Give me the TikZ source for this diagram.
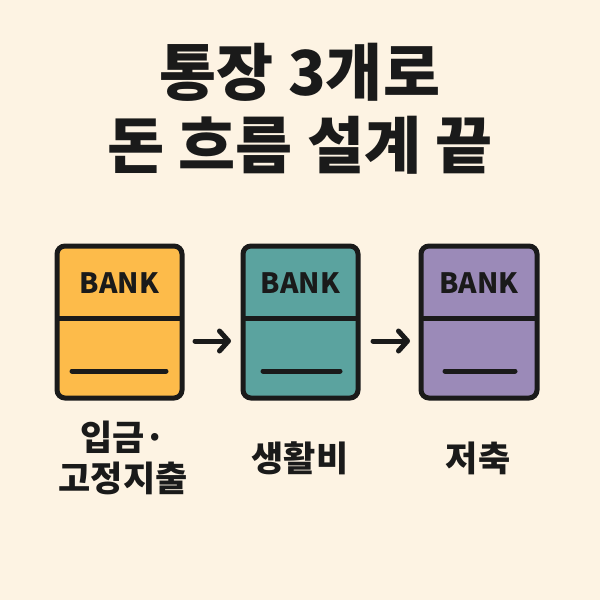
\documentclass[tikz,border=0pt]{standalone}
\usepackage{fontspec}
\setmainfont{Noto Sans CJK KR}
\newfontfamily\heavy{Noto Sans CJK KR Black}
\usetikzlibrary{arrows.meta}
\definecolor{bg}{HTML}{FDF3E3}
\definecolor{ink}{HTML}{1A1A1A}
\definecolor{cyellow}{HTML}{FDBB4A}
\definecolor{cteal}{HTML}{5BA39F}
\definecolor{cpurple}{HTML}{9B8AB8}
\tikzset{
  bankbox/.style={draw=ink, line width=5pt, rounded corners=8pt},
  divline/.style={draw=ink, line width=5pt},
  slotline/.style={draw=ink, line width=5pt, line cap=round},
  flowarrow/.style={draw=ink, line width=5pt, line cap=round, -{Straight Barb[length=9pt,width=20pt,line cap=round,line join=round]}},
  banktext/.style={font=\fontsize{28}{32}\selectfont\bfseries, text=ink},
  titletext/.style={font=\fontsize{62}{74}\selectfont\heavy, text=ink, align=center},
  labeltext/.style={font=\fontsize{35}{41}\selectfont\heavy, text=ink, align=center}
}
\begin{document}
\begin{tikzpicture}[x=1pt,y=-1pt]
\fill[bg] (0,0) rectangle (600,600);
\useasboundingbox (0,0) rectangle (600,600);
\node[titletext] (t1) at (300,72) {통장 3개로};
\node[titletext] (t2) at (300,145) {돈 흐름 설계 끝};
% box 1
\filldraw[bankbox, fill=cyellow] (57,246) rectangle (182,398);
\draw[divline] (57,318) -- (182,318);
\coordinate (s1a) at (72,371); \coordinate (s1b) at (166,371);
\draw[slotline] (s1a) -- (s1b);
\node[banktext] (b1) at (119.5,283) {BANK};
% box 2
\filldraw[bankbox, fill=cteal] (243,246) rectangle (358,398);
\draw[divline] (243,318) -- (358,318);
\coordinate (s2a) at (263,371); \coordinate (s2b) at (340,371);
\draw[slotline] (s2a) -- (s2b);
\node[banktext] (b2) at (300.5,283) {BANK};
% box 3
\filldraw[bankbox, fill=cpurple] (421,246) rectangle (537,398);
\draw[divline] (421,318) -- (537,318);
\coordinate (s3a) at (445,371); \coordinate (s3b) at (515,371);
\draw[slotline] (s3a) -- (s3b);
\node[banktext] (b3) at (479,283) {BANK};
% arrows
\coordinate (a1s) at (195,341); \coordinate (a1e) at (231,341);
\coordinate (a2s) at (373,341); \coordinate (a2e) at (410,341);
\draw[flowarrow] (a1s) -- (a1e);
\draw[flowarrow] (a2s) -- (a2e);
% labels
\node[labeltext] (l1) at (123,458) {입금·\\고정지출};
\node[labeltext] (l2) at (300,458) {생활비};
\node[labeltext] (l3) at (478,458) {저축};
\end{tikzpicture}
\end{document}
